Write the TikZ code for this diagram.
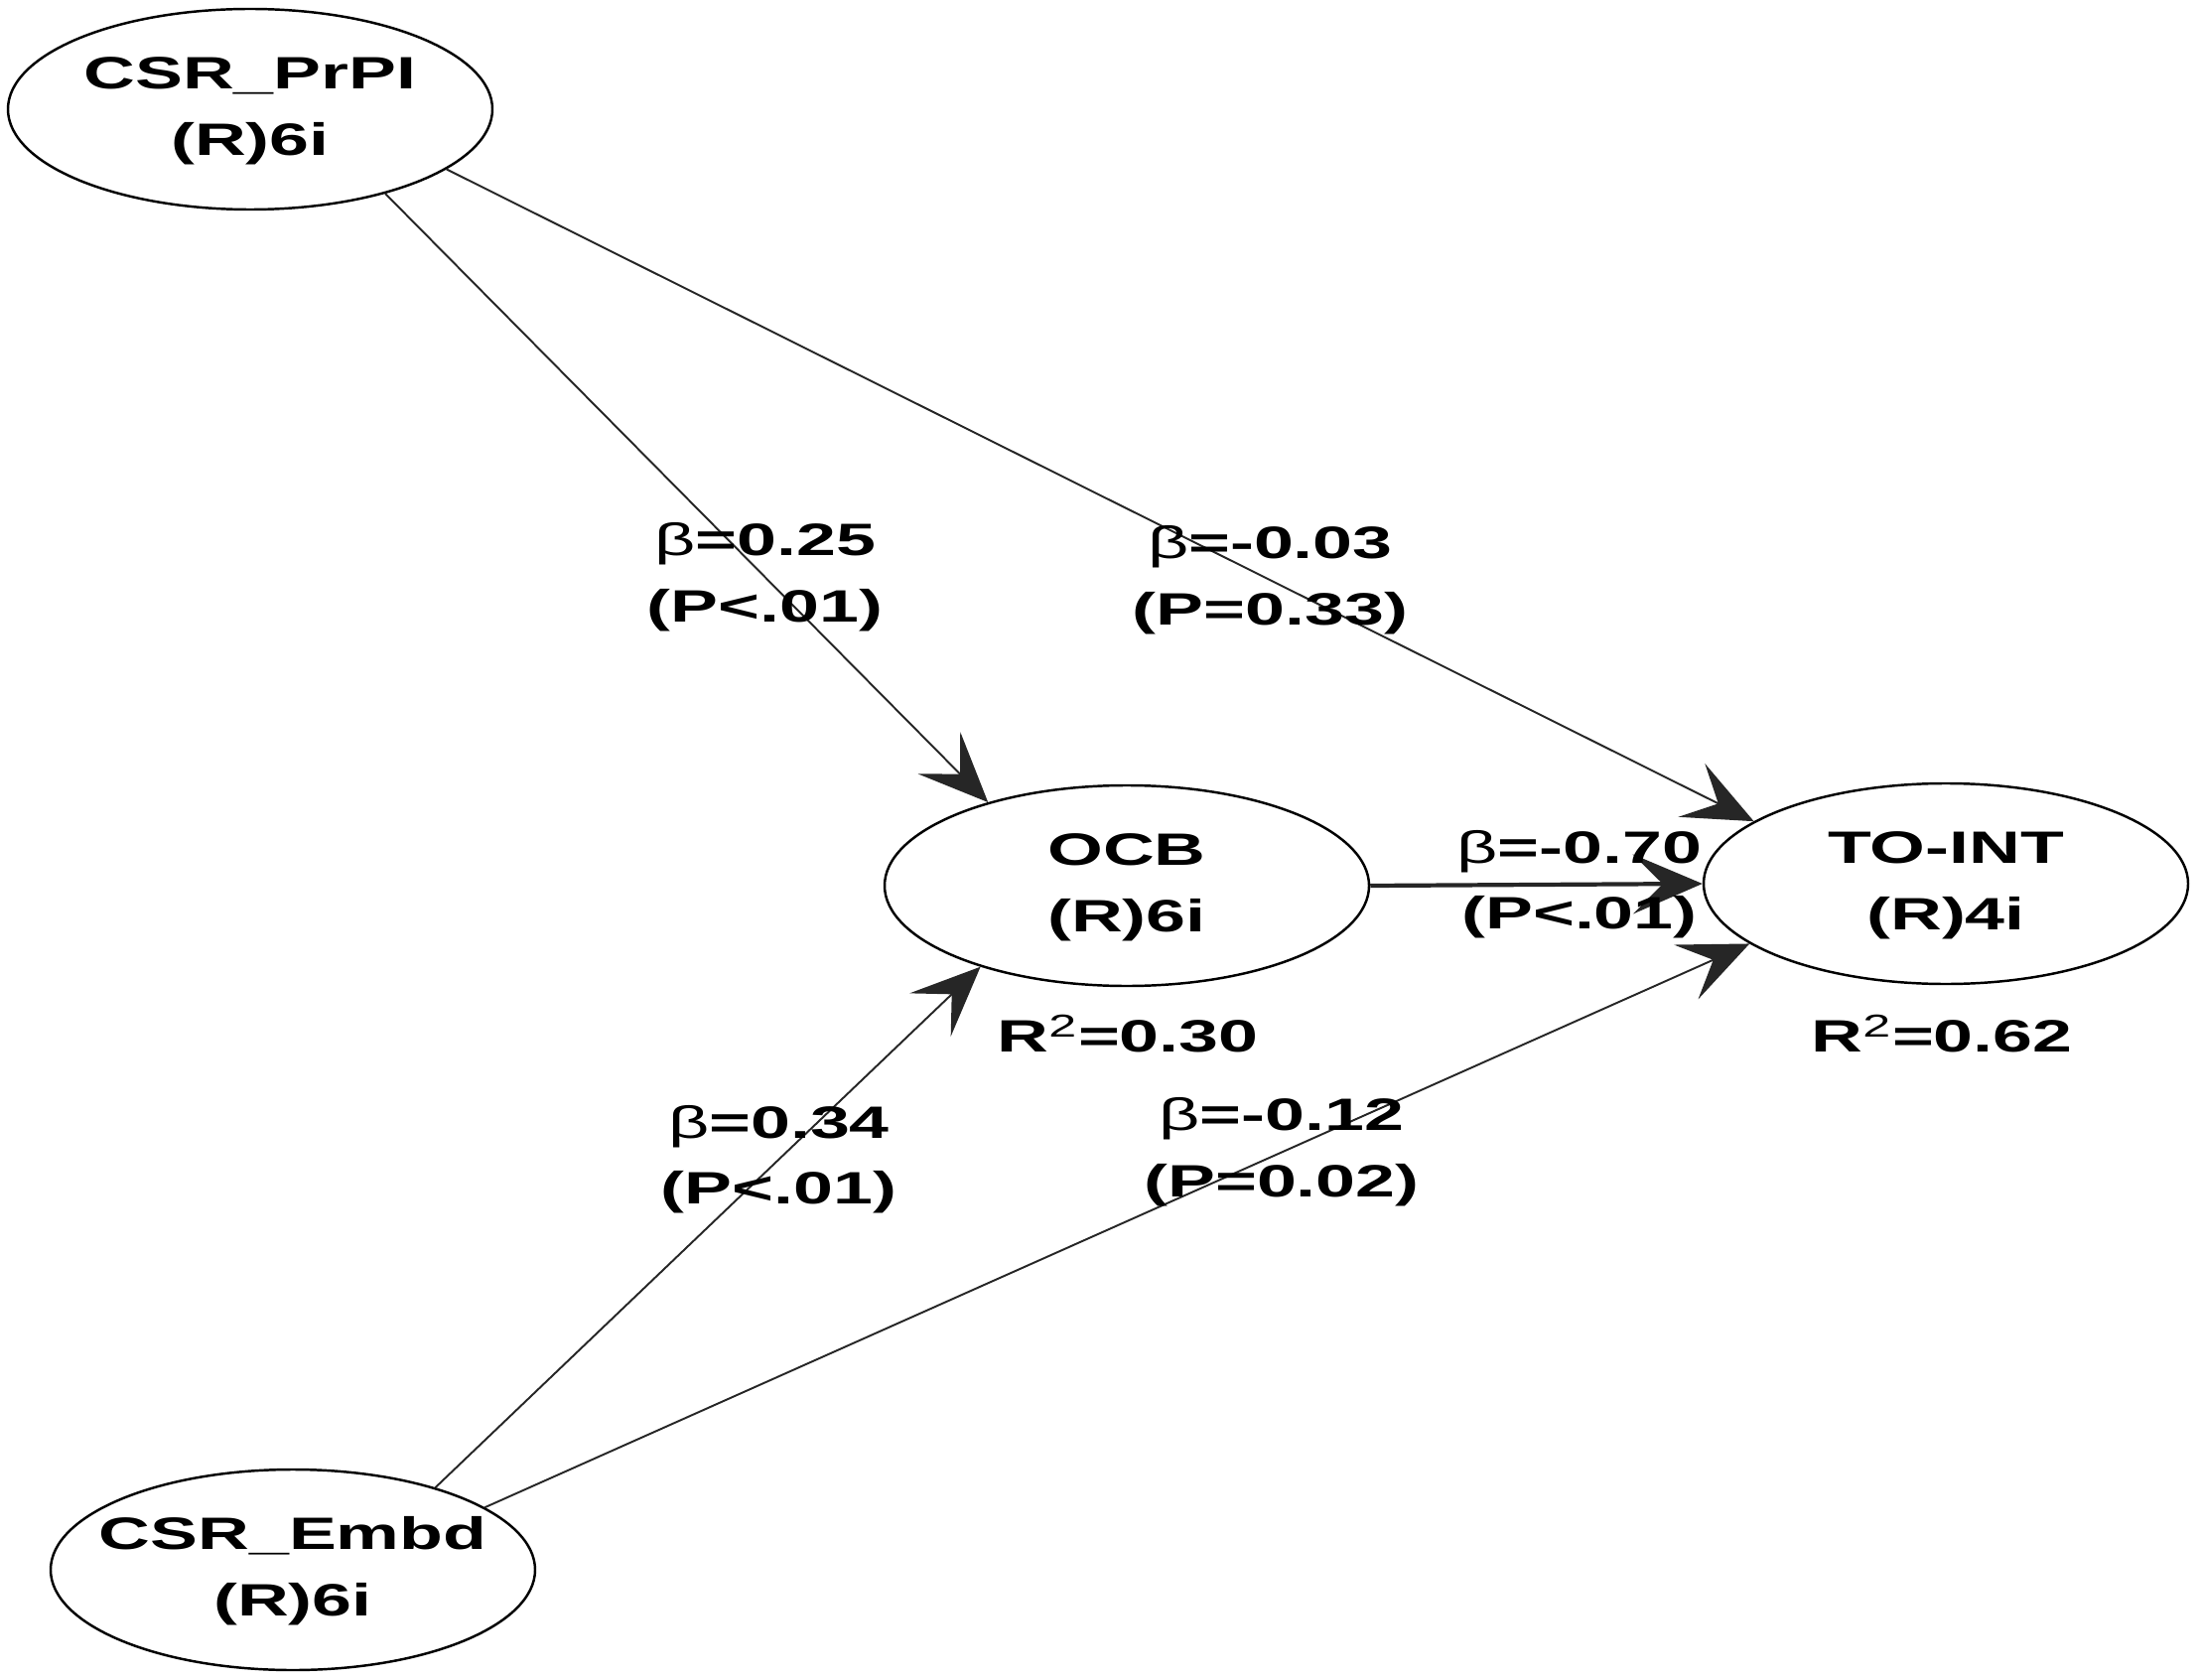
\documentclass[tikz,border=0pt]{standalone}
\usepackage{fontspec}
\setmainfont{Liberation Sans}[FakeStretch=1.57]
\usetikzlibrary{shapes.geometric,arrows.meta}
\newcommand{\cname}[2]{\makebox[0pt]{\begin{tabular}{@{}c@{}}#1\\#2\end{tabular}}}
\newcommand{\bt}{{\mdseries β}}
\newcommand{\sq}{\textsuperscript{\mdseries 2}}

\begin{document}
\begin{tikzpicture}[
    constructo/.style={ellipse, draw, line width=0.7pt, minimum width=4.88cm, minimum height=2.02cm, inner sep=0pt, font=\fontsize{13}{19}\selectfont\bfseries},
    camino/.style={draw=black!85, line width=0.55pt, -{Stealth[length=0.7cm, width=0.6cm, inset=0.3cm]}},
    coef/.style={pos=0.63, align=center, inner sep=0pt, font=\fontsize{13}{19}\selectfont\bfseries},
    rcuad/.style={inner sep=0pt, font=\fontsize{13}{19}\selectfont\bfseries}]
            \useasboundingbox (0,0) rectangle (22.17,-16.92);

            % Constructos
            \node[constructo] (prpi) at (2.52,-1.10) {\cname{CSR\_PrPI}{(R)6i}};
            \node[constructo] (ocb) at (11.35,-8.92) {\cname{OCB}{(R)6i}};
            \node[constructo] (toint) at (19.60,-8.90) {\cname{TO-INT}{(R)4i}};
            \node[constructo] (embd) at (2.95,-15.81) {\cname{CSR\_Embd}{(R)6i}};

            % R cuadrado
            \node[rcuad] (r2ocb) at (11.36,-10.41) {R\sq=0.30};
            \node[rcuad] (r2toint) at (19.56,-10.41) {R\sq=0.62};

            % Caminos
            \draw[camino] (prpi.-32) -- (ocb.149) node[coef] {\bt=0.25\\(P<.01)};
            \draw[camino] (prpi.-17) -- (toint.162) node[coef] {\bt=-0.03\\(P=0.33)};
            \draw[camino, line width=1.2pt] (ocb.0) -- (toint.180) node[coef] {\bt=-0.70\\(P<.01)};
            \draw[camino] (embd.30) -- (ocb.-151) node[coef] {\bt=0.34\\(P<.01)};
            \draw[camino] (embd.18) -- (toint.-163) node[coef] {\bt=-0.12\\(P=0.02)};
        \end{tikzpicture}
\end{document}
